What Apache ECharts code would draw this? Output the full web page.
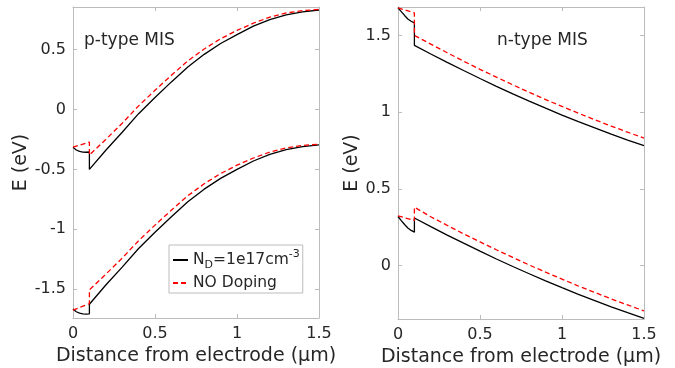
<!DOCTYPE html>
<html>
<head>
<meta charset="utf-8">
<script src="https://cdn.jsdelivr.net/npm/echarts@6/dist/echarts.min.js"></script>
<style>
  html, body { margin: 0; padding: 0; background: #fff; }
  #chart { width: 675px; height: 368px; }
</style>
</head>
<body>
<div id="chart"></div>
<script>
// Positions (µm) along the structure: insulator layer 0–0.1, semiconductor 0.1–1.5
const xInsulator = [0, 0.02, 0.04, 0.06, 0.08, 0.1];
const xInsulatorEnds = [0, 0.1];
const xBulk = [0.1, 0.2, 0.3, 0.4, 0.5, 0.6, 0.7, 0.8, 0.9, 1.0, 1.1, 1.2, 1.3, 1.4, 1.5];

// p-type MIS, doped insulator (N_D = 1e17 cm^-3)
const pEcDopedIns  = [-0.315, -0.338, -0.35, -0.356, -0.357, -0.355];
const pEcDopedBulk = [-0.5, -0.34, -0.19, -0.035, 0.1, 0.23, 0.355, 0.46, 0.55, 0.625, 0.695, 0.75, 0.79, 0.815, 0.83];
const pEvDopedIns  = [-1.665, -1.688, -1.7, -1.706, -1.707, -1.705];
const pEvDopedBulk = [-1.625, -1.465, -1.315, -1.16, -1.025, -0.895, -0.77, -0.665, -0.575, -0.5, -0.43, -0.375, -0.335, -0.31, -0.295];
// p-type MIS, no doping
const pEcUndopedIns  = [-0.315, -0.272];
const pEcUndopedBulk = [-0.38, -0.25, -0.115, 0.03, 0.16, 0.285, 0.405, 0.505, 0.59, 0.66, 0.72, 0.77, 0.805, 0.825, 0.835];
const pEvUndopedIns  = [-1.675, -1.62];
const pEvUndopedBulk = [-1.505, -1.375, -1.24, -1.095, -0.965, -0.84, -0.72, -0.62, -0.535, -0.465, -0.405, -0.355, -0.32, -0.3, -0.29];

// n-type MIS, doped insulator
const nEcDopedIns  = [1.68, 1.655, 1.63, 1.607, 1.592, 1.582];
const nEcDopedBulk = [1.435, 1.379, 1.324, 1.271, 1.219, 1.168, 1.119, 1.072, 1.026, 0.981, 0.938, 0.897, 0.856, 0.818, 0.781];
const nEvDopedIns  = [0.32, 0.293, 0.268, 0.245, 0.229, 0.218];
const nEvDopedBulk = [0.31, 0.254, 0.199, 0.146, 0.094, 0.043, -0.006, -0.053, -0.099, -0.144, -0.187, -0.228, -0.269, -0.307, -0.344];
// n-type MIS, no doping
const nEcUndopedIns  = [1.68, 1.646];
const nEcUndopedBulk = [1.5, 1.443, 1.387, 1.332, 1.279, 1.228, 1.178, 1.129, 1.082, 1.037, 0.993, 0.95, 0.909, 0.869, 0.831];
const nEvUndopedIns  = [0.324, 0.294];
const nEvUndopedBulk = [0.38, 0.318, 0.262, 0.207, 0.154, 0.103, 0.053, 0.004, -0.043, -0.088, -0.133, -0.175, -0.217, -0.256, -0.295];

// Tick labels
const xTicks = [0, 0.5, 1, 1.5];
const pTicks = [-1.5, -1, -0.5, 0, 0.5];
const nTicks = [0, 0.5, 1, 1.5];

const FONT = '"DejaVu Sans", "Liberation Sans", sans-serif';
const TEXT = '#262626';
const FRAME = '#bcbcbc';

function band(xa, ya, xb, yb) {
  return xa.map((x, i) => [x, ya[i]]).concat(xb.map((x, i) => [x, yb[i]]));
}

function xAxes(grid) {
  return [
    {
      gridIndex: grid, type: 'value', min: 0, max: 1.5, position: 'bottom',
      axisLine: { show: true, onZero: false, lineStyle: { color: FRAME, width: 1 } },
      axisTick: { show: true, inside: true, length: 4, customValues: xTicks, lineStyle: { color: FRAME } },
      axisLabel: { customValues: xTicks, fontSize: 16, color: TEXT, fontFamily: FONT, margin: 8 },
      splitLine: { show: false },
      name: 'Distance from electrode (\u03bcm)', nameLocation: 'middle', nameGap: 29,
      nameTextStyle: { fontSize: 19, color: TEXT, fontFamily: FONT }
    },
    {
      gridIndex: grid, type: 'value', min: 0, max: 1.5, position: 'top',
      axisLine: { show: true, onZero: false, lineStyle: { color: FRAME, width: 1 } },
      axisTick: { show: true, inside: true, length: 4, customValues: xTicks, lineStyle: { color: FRAME } },
      axisLabel: { show: false }, splitLine: { show: false }
    }
  ];
}

function yAxes(grid, min, max, ticks, gap) {
  return [
    {
      gridIndex: grid, type: 'value', min: min, max: max, position: 'left',
      axisLine: { show: true, onZero: false, lineStyle: { color: FRAME, width: 1 } },
      axisTick: { show: true, inside: true, length: 4, customValues: ticks, lineStyle: { color: FRAME } },
      axisLabel: { customValues: ticks, fontSize: 16, color: TEXT, fontFamily: FONT, margin: 7 },
      splitLine: { show: false },
      name: 'E (eV)', nameLocation: 'middle', nameGap: gap,
      nameTextStyle: { fontSize: 19, color: TEXT, fontFamily: FONT }
    },
    {
      gridIndex: grid, type: 'value', min: min, max: max, position: 'right',
      axisLine: { show: true, onZero: false, lineStyle: { color: FRAME, width: 1 } },
      axisTick: { show: true, inside: true, length: 4, customValues: ticks, lineStyle: { color: FRAME } },
      axisLabel: { show: false }, splitLine: { show: false }
    }
  ];
}

function line(name, data, xi, yi) {
  const doped = name === 'doped';
  return {
    name: name, type: 'line', data: data, xAxisIndex: xi, yAxisIndex: yi,
    symbol: 'none', showSymbol: false, animation: false,
    lineStyle: doped
      ? { color: '#000000', width: 1.3, type: 'solid' }
      : { color: '#ff0000', width: 1.3, type: [5, 3] },
    itemStyle: { color: doped ? '#000000' : '#ff0000' },
    z: doped ? 2 : 3
  };
}

const chart = echarts.init(document.getElementById('chart'), null, { renderer: 'canvas' });
chart.setOption({
  animation: false,
  backgroundColor: '#ffffff',
  grid: [
    { left: 73, top: 7, width: 246, height: 311, outerBoundsMode: 'none', containLabel: false },
    { left: 398, top: 7, width: 246, height: 312, outerBoundsMode: 'none', containLabel: false }
  ],
  xAxis: xAxes(0).concat(xAxes(1)),
  yAxis: yAxes(0, -1.74, 0.855, pTicks, 37).concat(yAxes(1, -0.348, 1.685, nTicks, 31)),
  legend: {
    data: ['doped', 'undoped'],
    left: 169, top: 245, orient: 'vertical',
    itemWidth: 15, itemHeight: 10, itemGap: 4,
    padding: [4, 3, 2, 3],
    borderColor: FRAME, borderWidth: 1, backgroundColor: '#ffffff',
    selectedMode: false,
    itemStyle: { opacity: 0 },
    formatter: function (name) {
      return name === 'doped'
        ? '{n|N}{sub|D}{n|=1e17cm}{sup|-3}'
        : '{n|NO Doping}';
    },
    textStyle: {
      color: TEXT, fontFamily: FONT, fontSize: 15.5,
      rich: {
        n: { fontSize: 15.5, color: TEXT, fontFamily: FONT, lineHeight: 22, verticalAlign: 'middle' },
        sub: { fontSize: 11, color: TEXT, fontFamily: FONT, lineHeight: 22, verticalAlign: 'bottom' },
        sup: { fontSize: 11, color: TEXT, fontFamily: FONT, lineHeight: 22, verticalAlign: 'top' }
      }
    }
  },
  graphic: [
    { type: 'text', left: 84, top: 32, style: { text: 'p-type MIS', fill: TEXT, font: '17px ' + FONT } },
    { type: 'text', left: 497, top: 32, style: { text: 'n-type MIS', fill: TEXT, font: '17px ' + FONT } }
  ],
  series: [
    line('doped',   band(xInsulator, pEcDopedIns, xBulk, pEcDopedBulk), 0, 0),
    line('doped',   band(xInsulator, pEvDopedIns, xBulk, pEvDopedBulk), 0, 0),
    line('undoped', band(xInsulatorEnds, pEcUndopedIns, xBulk, pEcUndopedBulk), 0, 0),
    line('undoped', band(xInsulatorEnds, pEvUndopedIns, xBulk, pEvUndopedBulk), 0, 0),
    line('doped',   band(xInsulator, nEcDopedIns, xBulk, nEcDopedBulk), 2, 2),
    line('doped',   band(xInsulator, nEvDopedIns, xBulk, nEvDopedBulk), 2, 2),
    line('undoped', band(xInsulatorEnds, nEcUndopedIns, xBulk, nEcUndopedBulk), 2, 2),
    line('undoped', band(xInsulatorEnds, nEvUndopedIns, xBulk, nEvUndopedBulk), 2, 2)
  ]
});
</script>
</body>
</html>
